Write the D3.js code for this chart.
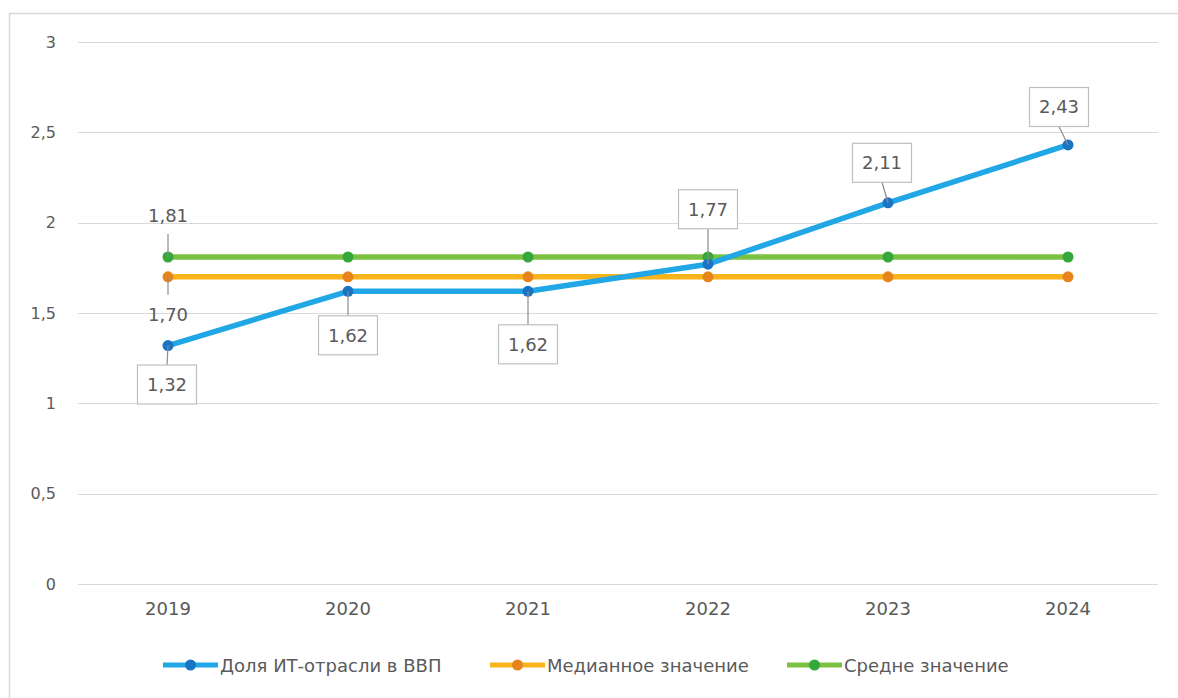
<!DOCTYPE html>
<html>
<head>
<meta charset="utf-8">
<script src="https://cdn.jsdelivr.net/npm/d3@7"></script>
<style>
  body { margin: 0; background: #fff; }
  svg { display: block; font-family: "DejaVu Sans", sans-serif; }
</style>
</head>
<body>
<div id="chart"></div>
<script>
const years = ["2019", "2020", "2021", "2022", "2023", "2024"];
const itShare = [1.32, 1.62, 1.62, 1.77, 2.11, 2.43];
const medianValue = [1.70, 1.70, 1.70, 1.70, 1.70, 1.70];
const meanValue = [1.81, 1.81, 1.81, 1.81, 1.81, 1.81];
const yTicks = [0, 0.5, 1, 1.5, 2, 2.5, 3];
const seriesNames = ["Доля ИТ-отрасли в ВВП", "Медианное значение", "Средне значение"];

function drawChart() {
    const width = 1178;
    const height = 698;
    const margin = { top: 42, right: 20, bottom: 114, left: 78 };
    const plotRight = 1158;
    const font = "'DejaVu Sans', sans-serif";
    const textColor = "#5a5a5a";

    const fmt = v => d3.format(".2f")(v).replace(".", ",");
    const tickFmt = v => String(v).replace(".", ",");

    const svg = d3.select("#chart")
        .append("svg")
        .attr("width", width)
        .attr("height", height);

    // outer frame
    svg.append("rect")
        .attr("x", 9.5)
        .attr("y", 13.5)
        .attr("width", 1300)
        .attr("height", 800)
        .style("fill", "none")
        .style("stroke", "#d9d9d9")
        .style("stroke-width", 1.5);

    const x = d3.scaleBand()
        .domain(years)
        .range([margin.left, plotRight]);

    const y = d3.scaleLinear()
        .domain([0, 3])
        .range([584, margin.top]);

    // gridlines
    svg.append("g")
        .selectAll("line")
        .data(yTicks)
        .enter()
        .append("line")
        .attr("x1", margin.left)
        .attr("x2", plotRight)
        .attr("y1", d => Math.round(y(d)) + 0.5)
        .attr("y2", d => Math.round(y(d)) + 0.5)
        .style("stroke", "#d9d9d9")
        .style("stroke-width", 1.2);

    // y axis labels
    const yAxis = d3.axisLeft(y)
        .tickValues(yTicks)
        .tickFormat(tickFmt)
        .tickSize(0)
        .tickPadding(0);

    const yG = svg.append("g")
        .attr("transform", "translate(56,0)")
        .call(yAxis);
    yG.select(".domain").remove();
    yG.selectAll("text")
        .style("font-size", "16px")
        .style("fill", textColor)
        .style("font-family", font);

    // x axis labels
    const xAxis = d3.axisBottom(x).tickSize(0).tickPadding(0);
    const xG = svg.append("g")
        .attr("transform", "translate(0,602)")
        .call(xAxis);
    xG.select(".domain").remove();
    xG.selectAll("text")
        .style("font-size", "18px")
        .style("fill", textColor)
        .style("font-family", font);

    const cx = (d, i) => x(years[i]) + x.bandwidth() / 2;

    const series = [
        { name: seriesNames[2], values: meanValue, line: "#7cc242", dot: "#34a83a" },
        { name: seriesNames[1], values: medianValue, line: "#f9b41c", dot: "#e8841c" },
        { name: seriesNames[0], values: itShare, line: "#22a7e6", dot: "#1a74c4" }
    ];

    const line = d3.line()
        .x(cx)
        .y(d => y(d));

    series.forEach(s => {
        const g = svg.append("g");
        g.append("path")
            .datum(s.values)
            .attr("d", line)
            .style("fill", "none")
            .style("stroke", s.line)
            .style("stroke-width", 5.5)
            .style("stroke-linejoin", "round")
            .style("stroke-linecap", "round");
        g.selectAll("circle")
            .data(s.values)
            .enter()
            .append("circle")
            .attr("cx", cx)
            .attr("cy", d => y(d))
            .attr("r", 5.5)
            .style("fill", s.dot);
    });

    // leader lines + labels for main series (boxed)
    const boxOffsets = [
        { dx: -1, dy: 39 },
        { dx: 0, dy: 44 },
        { dx: 0, dy: 53 },
        { dx: 0, dy: -55 },
        { dx: -6, dy: -40 },
        { dx: -9, dy: -38 }
    ];
    const boxW = 59;
    const boxH = 39;
    const labelG = svg.append("g");

    itShare.forEach((v, i) => {
        const px = cx(v, i);
        const py = y(v);
        const o = boxOffsets[i];
        const tx = px + o.dx;
        const ty = py + o.dy;
        const edgeY = o.dy > 0 ? ty - boxH / 2 : ty + boxH / 2;
        labelG.append("line")
            .attr("x1", px)
            .attr("y1", py)
            .attr("x2", tx)
            .attr("y2", edgeY)
            .style("stroke", "#8c8c8c")
            .style("stroke-width", 1.2);
        labelG.append("rect")
            .attr("x", tx - boxW / 2)
            .attr("y", ty - boxH / 2)
            .attr("width", boxW)
            .attr("height", boxH)
            .style("fill", "#fff")
            .style("stroke", "#bfbfbf")
            .style("stroke-width", 1.2);
        labelG.append("text")
            .attr("x", tx)
            .attr("y", ty)
            .attr("text-anchor", "middle")
            .attr("dominant-baseline", "central")
            .style("font-size", "18px")
            .style("fill", textColor)
            .text(fmt(v));
    });

    // plain labels for first point of mean / median
    const plainLabels = [
        { v: meanValue[0], dy: -41, lineEnd: -23 },
        { v: medianValue[0], dy: 38, lineEnd: 18 }
    ];
    plainLabels.forEach(l => {
        const px = cx(l.v, 0);
        const py = y(l.v);
        labelG.append("line")
            .attr("x1", px)
            .attr("y1", py)
            .attr("x2", px)
            .attr("y2", py + l.lineEnd)
            .style("stroke", "#8c8c8c")
            .style("stroke-width", 1.2);
        labelG.append("text")
            .attr("x", px)
            .attr("y", py + l.dy)
            .attr("text-anchor", "middle")
            .attr("dominant-baseline", "central")
            .style("font-size", "18px")
            .style("fill", textColor)
            .text(fmt(l.v));
    });

    // legend
    const legendItems = [
        { name: seriesNames[0], line: "#22a7e6", dot: "#1a74c4", x: 163 },
        { name: seriesNames[1], line: "#f9b41c", dot: "#e8841c", x: 490 },
        { name: seriesNames[2], line: "#7cc242", dot: "#34a83a", x: 787 }
    ];
    const legend = svg.append("g").attr("transform", "translate(0,665)");
    legendItems.forEach(item => {
        const g = legend.append("g").attr("transform", `translate(${item.x},0)`);
        g.append("line")
            .attr("x1", 0)
            .attr("x2", 55)
            .style("stroke", item.line)
            .style("stroke-width", 5);
        g.append("circle")
            .attr("cx", 27.5)
            .attr("r", 5.5)
            .style("fill", item.dot);
        g.append("text")
            .attr("x", 57)
            .attr("dominant-baseline", "central")
            .style("font-size", "18px")
            .style("fill", textColor)
            .text(item.name);
    });
}

drawChart();
</script>
</body>
</html>
